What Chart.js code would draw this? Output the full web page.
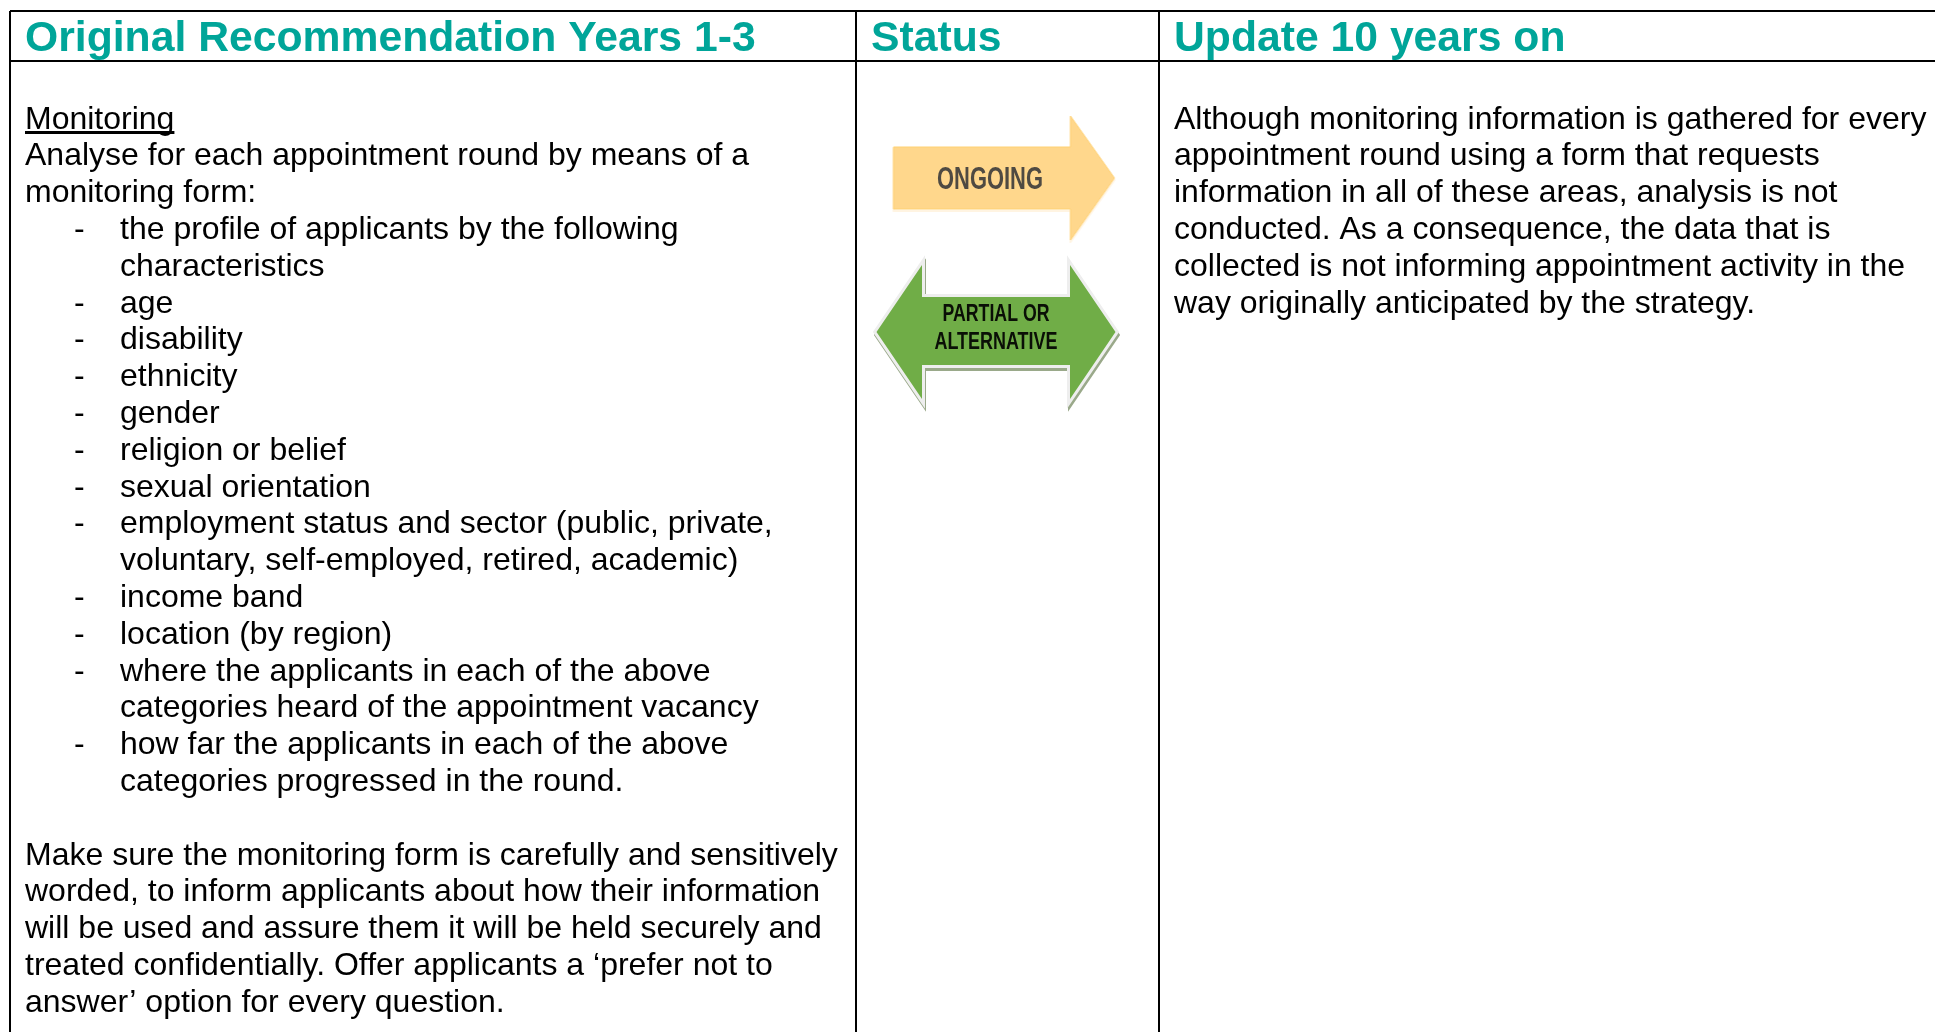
<!DOCTYPE html>
<html>
<head>
<meta charset="utf-8">
<title>Monitoring recommendation</title>
<script src="https://cdn.jsdelivr.net/npm/chart.js@4"></script>
<style>
  html, body { margin: 0; padding: 0; background: #fff; overflow: hidden; }
  canvas { display: block; }
</style>
</head>
<body>
<canvas id="theChart" width="1935" height="1032"></canvas>
<script>
const headers = ['Original Recommendation Years 1-3', 'Status', 'Update 10 years on'];
const statusLabels = [['ONGOING'], ['PARTIAL OR', 'ALTERNATIVE']];

// "- " marks a bullet, "  " a wrapped bullet line
const recommendationLines = [
  'Monitoring',
  'Analyse for each appointment round by means of a',
  'monitoring form:',
  '- the profile of applicants by the following',
  '  characteristics',
  '- age',
  '- disability',
  '- ethnicity',
  '- gender',
  '- religion or belief',
  '- sexual orientation',
  '- employment status and sector (public, private,',
  '  voluntary, self-employed, retired, academic)',
  '- income band',
  '- location (by region)',
  '- where the applicants in each of the above',
  '  categories heard of the appointment vacancy',
  '- how far the applicants in each of the above',
  '  categories progressed in the round.',
  '',
  'Make sure the monitoring form is carefully and sensitively',
  'worded, to inform applicants about how their information',
  'will be used and assure them it will be held securely and',
  'treated confidentially. Offer applicants a ‘prefer not to',
  'answer’ option for every question.'
];

const updateLines = [
  'Although monitoring information is gathered for every',
  'appointment round using a form that requests',
  'information in all of these areas, analysis is not',
  'conducted. As a consequence, the data that is',
  'collected is not informing appointment activity in the',
  'way originally anticipated by the strategy.'
];

const columnEdges = [10, 856, 1159];
const rowEdges = [11, 61];
const FONT = '"Liberation Sans", Arial, sans-serif';

function polygon(ctx, pts) {
  ctx.beginPath();
  pts.forEach((p, i) => i ? ctx.lineTo(p[0], p[1]) : ctx.moveTo(p[0], p[1]));
  ctx.closePath();
}

function ongoingArrow() {
  const c = document.createElement('canvas');
  c.width = 230; c.height = 132;
  const ctx = c.getContext('2d');
  const shape = [[4, 35], [181, 35], [181, 4], [225, 66], [181, 128], [181, 97], [4, 97]];
  ctx.lineJoin = 'round';
  ctx.filter = 'blur(0.5px)';
  ctx.strokeStyle = '#fff4e2';
  ctx.lineWidth = 2;
  ctx.translate(0, 2);
  polygon(ctx, shape);
  ctx.stroke();
  ctx.translate(0, -2);
  polygon(ctx, shape);
  ctx.fillStyle = '#ffd78c';
  ctx.fill();
  ctx.strokeStyle = '#ffd173';
  ctx.lineWidth = 1;
  ctx.stroke();
  return c;
}

function partialArrow() {
  const c = document.createElement('canvas');
  c.width = 256; c.height = 180;
  const ctx = c.getContext('2d');
  const shape = [[8.5, 90], [54, 23], [54, 55], [202, 55], [202, 23], [247.5, 90], [202, 157], [202, 123], [54, 123], [54, 157]];
  ctx.lineJoin = 'miter';
  ctx.filter = 'blur(0.4px)';
  ctx.save();
  ctx.translate(1, 3);
  polygon(ctx, shape);
  ctx.strokeStyle = '#9aa98a';
  ctx.lineWidth = 6;
  ctx.stroke();
  ctx.restore();
  polygon(ctx, shape);
  ctx.strokeStyle = '#eeeeee';
  ctx.lineWidth = 6;
  ctx.stroke();
  ctx.fillStyle = '#70ad47';
  ctx.fill();
  return c;
}

function textAt(ctx, scales, str, x, y, font, color) {
  ctx.font = font;
  ctx.fillStyle = color;
  ctx.textAlign = 'left';
  ctx.textBaseline = 'alphabetic';
  ctx.fillText(str, scales.x.getPixelForValue(x), scales.y.getPixelForValue(y));
}

const tablePlugin = {
  id: 'tableText',
  afterDraw(chart) {
    const { ctx, scales } = chart;
    ctx.save();

    const headerX = [25, 871, 1174];
    headers.forEach((h, i) => textAt(ctx, scales, h, headerX[i], 51, 'bold 42.7px ' + FONT, '#00a599'));

    const bodyFont = '32px ' + FONT;
    recommendationLines.forEach((line, i) => {
      const y = 128.5 + i * 36.8;
      if (line.startsWith('- ')) {
        textAt(ctx, scales, '-', 74, y, bodyFont, '#000');
        textAt(ctx, scales, line.slice(2), 120, y, bodyFont, '#000');
      } else if (line.startsWith('  ')) {
        textAt(ctx, scales, line.slice(2), 120, y, bodyFont, '#000');
      } else {
        textAt(ctx, scales, line, 25, y, bodyFont, '#000');
      }
    });
    updateLines.forEach((line, i) => textAt(ctx, scales, line, 1174, 128.5 + i * 36.8, bodyFont, '#000'));

    // underline under the Monitoring heading
    ctx.font = bodyFont;
    const w = ctx.measureText(recommendationLines[0]).width;
    ctx.fillStyle = '#000';
    ctx.fillRect(scales.x.getPixelForValue(25), scales.y.getPixelForValue(131), w, 3);

    // arrow captions, squeezed to the narrow look of the original
    ctx.textAlign = 'center';
    ctx.textBaseline = 'alphabetic';
    ctx.filter = 'blur(0.5px)';
    ctx.font = 'bold 31px ' + FONT;
    ctx.fillStyle = '#4f4a42';
    ctx.fillText(statusLabels[0][0], scales.x.getPixelForValue(990), scales.y.getPixelForValue(189), 106);
    ctx.filter = 'none';
    ctx.font = 'bold 24px ' + FONT;
    ctx.fillStyle = '#0a0f06';
    ctx.fillText(statusLabels[1][0], scales.x.getPixelForValue(996), scales.y.getPixelForValue(321), 107);
    ctx.fillText(statusLabels[1][1], scales.x.getPixelForValue(996), scales.y.getPixelForValue(349), 123);
    ctx.restore();
  }
};

new Chart(document.getElementById('theChart').getContext('2d'), {
  type: 'scatter',
  data: {
    datasets: [{
      label: 'Status',
      data: [{ x: 1004.5, y: 178 }, { x: 996, y: 332 }],
      pointStyle: [ongoingArrow(), partialArrow()],
      pointRadius: 1,
      pointBorderWidth: 0
    }]
  },
  options: {
    responsive: false,
    animation: false,
    layout: { autoPadding: false, padding: { left: 10, top: 11, right: 0, bottom: 0 } },
    plugins: { legend: { display: false }, tooltip: { enabled: false } },
    scales: {
      x: {
        type: 'linear', min: 10, max: 1935,
        afterBuildTicks(scale) { scale.ticks = columnEdges.map(value => ({ value })); },
        ticks: { display: false },
        border: { display: false },
        grid: { color: '#000', lineWidth: 2, drawTicks: false }
      },
      y: {
        type: 'linear', reverse: true, min: 11, max: 1032,
        afterBuildTicks(scale) { scale.ticks = rowEdges.map(value => ({ value })); },
        ticks: { display: false },
        border: { display: false },
        grid: { color: '#000', lineWidth: 2, drawTicks: false }
      }
    }
  },
  plugins: [tablePlugin]
});
</script>
</body>
</html>
